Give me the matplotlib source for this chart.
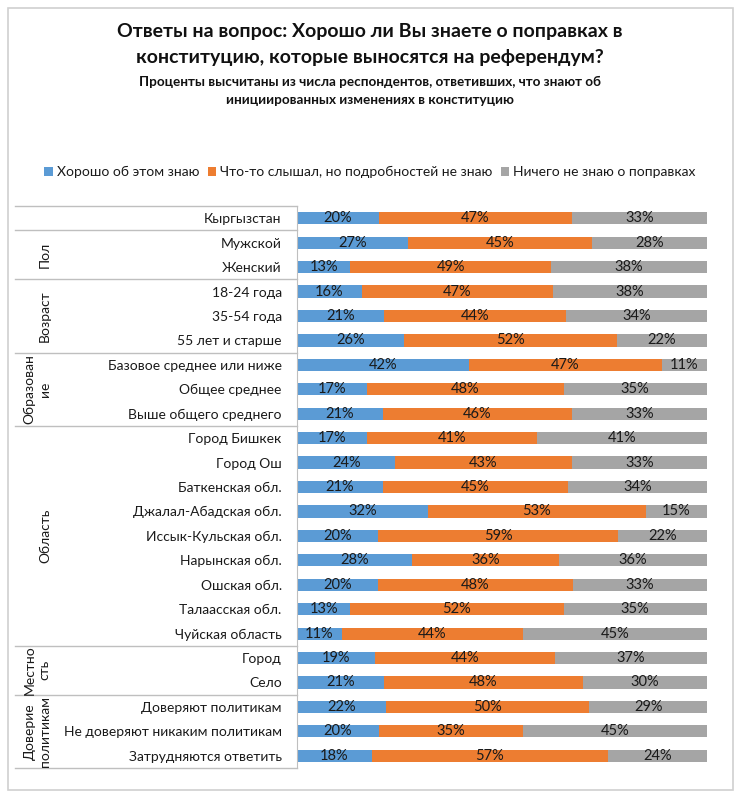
import numpy as np
import matplotlib
matplotlib.use("Agg")
import matplotlib.pyplot as plt
from matplotlib.patches import Rectangle
import matplotlib.transforms as mtransforms

plt.rcParams['font.family'] = ['Lato', 'DejaVu Sans']

categories = [
    "Кыргызстан",
    "Мужской", "Женский",
    "18-24 года", "35-54 года", "55 лет и старше",
    "Базовое среднее или ниже", "Общее среднее", "Выше общего среднего",
    "Город Бишкек", "Город Ош", "Баткенская обл.", "Джалал-Абадская обл.",
    "Иссык-Кульская обл.", "Нарынская обл.", "Ошская обл.", "Талаасская обл.",
    "Чуйская область",
    "Город", "Село",
    "Доверяют политикам", "Не доверяют никаким политикам", "Затрудняются ответить",
]
know_well = [20, 27, 13, 16, 21, 26, 42, 17, 21, 17, 24, 21, 32, 20, 28, 20, 13, 11, 19, 21, 22, 20, 18]
heard_some = [47, 45, 49, 47, 44, 52, 47, 48, 46, 41, 43, 45, 53, 59, 36, 48, 52, 44, 44, 48, 50, 35, 57]
know_nothing = [33, 28, 38, 38, 34, 22, 11, 35, 33, 41, 33, 34, 15, 22, 36, 33, 35, 45, 37, 30, 29, 45, 24]

series_names = ["Хорошо об этом знаю", "Что-то слышал, но подробностей не знаю",
                "Ничего не знаю о поправках"]
colors = ["#5B9BD5", "#ED7D31", "#A5A5A5"]

# groups: (label, first row, last row, x position in px)
groups = [
    ("", 0, 0, None),
    ("Пол", 1, 2, 45),
    ("Возраст", 3, 5, 45),
    ("Образован\nие", 6, 8, 37),
    ("Область", 9, 17, 45),
    ("Местно\nсть", 18, 19, 37),
    ("Доверие\nполитикам", 20, 22, 37),
]

W, H = 740, 798
fig = plt.figure(figsize=(W / 100, H / 100), dpi=100)

# outer frame
fig.add_artist(Rectangle((8 / W, 8 / H), 725 / W, 782 / H, transform=fig.transFigure,
                         fill=False, edgecolor="#D0D0D0", lw=1.2))

ax_left, ax_right = 297, 707
ax_top, ax_bot = 206, 768
ax = fig.add_axes([ax_left / W, 1 - ax_bot / H, (ax_right - ax_left) / W, (ax_bot - ax_top) / H])

data = np.array([know_well, heard_some, know_nothing], dtype=float)
totals = data.sum(axis=0)
shares = data / totals * 100
y = np.arange(len(categories))
left = np.zeros(len(categories))
for i in range(3):
    ax.barh(y, shares[i], left=left, height=0.5, color=colors[i], label=series_names[i])
    for j in range(len(categories)):
        ax.text(left[j] + shares[i][j] / 2, y[j], f"{int(data[i][j])}%", ha="center",
                va="center", fontsize=10.5, color="#1a1a1a")
    left += shares[i]

ax.set_xlim(0, 100)
ax.set_ylim(len(categories) - 0.5, -0.5)
ax.set_yticks(y)
ax.set_yticklabels(categories, fontsize=10, color="#1a1a1a")
ax.tick_params(axis="y", length=0, pad=11)
ax.set_xticks([])
for s in ["top", "right", "bottom"]:
    ax.spines[s].set_visible(False)
ax.spines["left"].set_color("#BFBFBF")

# table lines and group labels
trans = mtransforms.blended_transform_factory(ax.transAxes, ax.transData)
x0 = (15 - ax_left) / (ax_right - ax_left)
bounds = [-0.5] + [g[2] + 0.5 for g in groups]
for b in bounds:
    ax.plot([x0, 0], [b, b], transform=trans, color="#BFBFBF", lw=1, clip_on=False)
for label, a, b, xpx in groups:
    if not label:
        continue
    xa = (xpx - ax_left) / (ax_right - ax_left)
    ax.text(xa, (a + b) / 2, label, transform=trans, rotation=90, ha="center", va="center",
            fontsize=10, color="#1a1a1a", linespacing=1.3, multialignment="center")

# titles
fig.text(0.5, 1 - 32 / H, "Ответы на вопрос: Хорошо ли Вы знаете о поправках в",
         ha="center", va="center", fontsize=14, fontweight="bold", color="#111111")
fig.text(0.5, 1 - 57 / H, "конституцию, которые выносятся на референдум?",
         ha="center", va="center", fontsize=14, fontweight="bold", color="#111111")
fig.text(0.5, 1 - 82 / H, "Проценты высчитаны из числа респондентов, ответивших, что знают об",
         ha="center", va="center", fontsize=9.7, fontweight="bold", color="#111111")
fig.text(0.5, 1 - 100 / H, "инициированных изменениях в конституцию",
         ha="center", va="center", fontsize=9.7, fontweight="bold", color="#111111")

handles, labels = ax.get_legend_handles_labels()
fig.legend(handles, labels, loc="center", bbox_to_anchor=(0.5, 1 - 172 / H), ncol=3,
           frameon=False, fontsize=10, handlelength=0.6, handleheight=0.6,
           handletextpad=0.3, columnspacing=0.6, labelcolor="#1a1a1a")

fig.savefig("out.png", dpi=100)
